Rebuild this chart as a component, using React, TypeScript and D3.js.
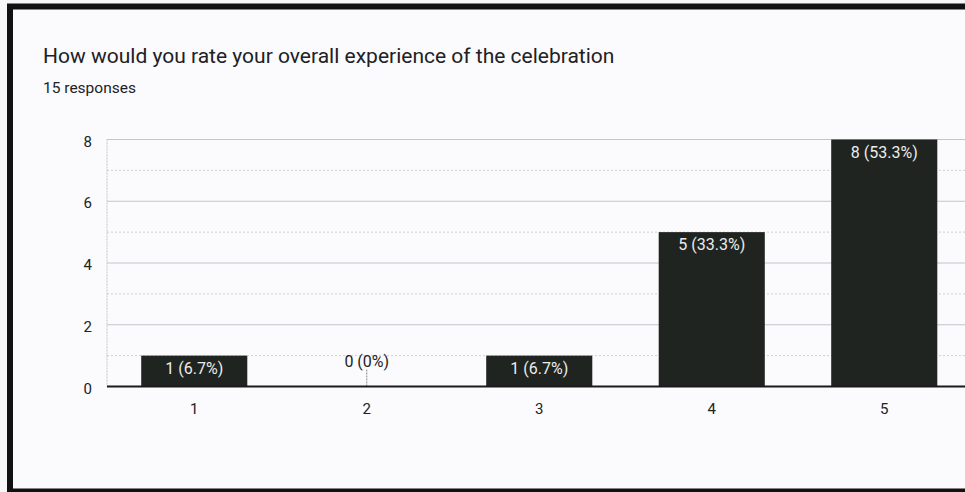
import React from "react";
import * as d3 from "d3";

const title = "How would you rate your overall experience of the celebration";
const subtitle = "15 responses";
const categories = ["1", "2", "3", "4", "5"];
const counts = [1, 0, 1, 5, 8];
const percents = ["6.7%", "0%", "6.7%", "33.3%", "53.3%"];
const yTicks = [0, 2, 4, 6, 8];
const yMinor = [1, 3, 5, 7];

const W = 965;
const H = 492;

export default function App() {
  const x = d3.scaleBand<string>().domain(categories).range([108, 970.5]).paddingInner(0.385).paddingOuter(0.1925);
  const y = d3.scaleLinear().domain([0, 8]).range([386.5, 139.5]);
  const font = "Roboto, Arial, sans-serif";
  return (
    <svg width={W} height={H} style={{ position: "absolute", left: 0, top: 0 }} fontFamily={font}>
      <rect x={0} y={0} width={W} height={H} fill="#f7f6f8" />
      <rect x={10} y={6.5} width={1000} height={485} fill="#fbfafc" stroke="#111" strokeWidth={6} />
      <text x={43} y={63} fontSize={21} fill="#202124">{title}</text>
      <text x={43} y={93} fontSize={15.5} fill="#202124">{subtitle}</text>
      {yMinor.map((t) => (
        <line key={"m" + t} x1={107} x2={W} y1={y(t)} y2={y(t)} stroke="#cfcfd4" strokeWidth={1} strokeDasharray="2,2" />
      ))}
      {yTicks.filter((t) => t > 0).map((t) => (
        <line key={"g" + t} x1={107} x2={W} y1={y(t)} y2={y(t)} stroke="#c4c4ca" strokeWidth={1} />
      ))}
      <line x1={107} x2={107} y1={y(8)} y2={y(0)} stroke="#c4c4ca" strokeWidth={1} strokeDasharray="2,1" />
      {yTicks.map((t) => (
        <text key={"t" + t} x={92} y={y(t) + 7} fontSize={15} textAnchor="end" fill="#222">{t}</text>
      ))}
      {categories.map((c, i) => {
        const bx = x(c)!;
        const bw = x.bandwidth();
        const cx = bx + bw / 2;
        const v = counts[i];
        const label = `${v} (${percents[i]})`;
        return (
          <g key={c}>
            {v > 0 ? (
              <>
                <rect x={bx} y={y(v)} width={bw} height={y(0) - y(v)} fill="#1f2420" />
                <text x={cx} y={y(v) + 18} fontSize={16} textAnchor="middle" fill="#ececec">{label}</text>
              </>
            ) : (
              <>
                <line x1={cx} x2={cx} y1={y(0)} y2={y(0) - 18} stroke="#888" strokeWidth={1} strokeDasharray="2,1" />
                <text x={cx} y={y(0) - 20} fontSize={16} textAnchor="middle" fill="#222">{label}</text>
              </>
            )}
            <text x={cx} y={414} fontSize={15} textAnchor="middle" fill="#222">{c}</text>
          </g>
        );
      })}
      <line x1={107} x2={W} y1={y(0)} y2={y(0)} stroke="#1a1a1a" strokeWidth={2} />
    </svg>
  );
}
